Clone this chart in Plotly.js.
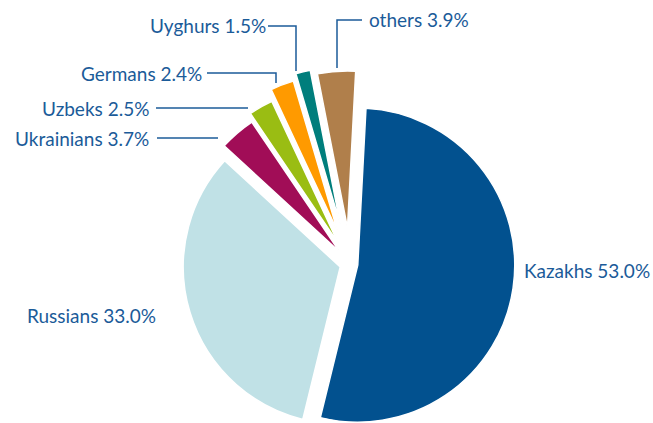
<!DOCTYPE html>
<html><head><meta charset="utf-8">
<script src="https://cdn.plot.ly/plotly-3.0.1.min.js"></script>
<style>html,body{margin:0;padding:0;overflow:hidden;background:#fff}#chart{width:653px;height:470px}</style>
</head><body><div id="chart"></div>
<script>
// ---- data ----
const categories = ['Kazakhs','Russians','Ukrainians','Uzbeks','Germans','Uyghurs','others'];
const shares = [53.0, 33.0, 3.7, 2.5, 2.4, 1.5, 3.9];

// ---- styling ----
const sliceColors = ['#02518f','#c0e1e6','#a10d57','#9abd13','#ff9a00','#007e7c','#b07f4b'];
const pulls = [0.05, 0.065, 0.10, 0.15, 0.22, 0.26, 0.23];
const textColor = '#1b5b99';
const W = 653, H = 470;
const CX = 350, CY = 264, R = 157;
const maxPull = Math.max(...pulls);
const half = R * (1 + maxPull);

const px = x => x / W;
const py = y => 1 - y / H;

// label placement (pixels) and leader lines
const labelPlace = [
  {x:522, y:270, anchor:'left'},
  {x:158, y:315, anchor:'right'},
  {x:151, y:138, anchor:'right', leader:[[157,138],[218,138]]},
  {x:151, y:108, anchor:'right', leader:[[156,108],[248,108]]},
  {x:204, y:73,  anchor:'right', leader:[[207,73],[276,73],[276,83]]},
  {x:268, y:26,  anchor:'right', leader:[[268,26],[296,26],[296,71]]},
  {x:367, y:19,  anchor:'left',  leader:[[362,20],[337,20],[337,68]]}
];

const annotations = categories.map((c, i) => ({
  xref:'paper', yref:'paper',
  x: px(labelPlace[i].x), y: py(labelPlace[i].y),
  xanchor: labelPlace[i].anchor, yanchor:'middle',
  text: c + ' ' + shares[i].toFixed(1) + '%',
  showarrow:false,
  font:{family:'Lato, "Open Sans", sans-serif', size:19, color:textColor}
}));

const shapes = labelPlace.filter(l => l.leader).map(l => ({
  type:'path', xref:'paper', yref:'paper',
  path: l.leader.map((p, k) => (k ? 'L' : 'M') + px(p[0]) + ',' + py(p[1])).join(' '),
  line:{color:textColor, width:1.5}
}));

const trace = {
  type:'pie',
  labels: categories,
  values: shares,
  sort:false,
  direction:'clockwise',
  rotation:3,
  pull: pulls,
  textinfo:'none',
  hoverinfo:'label+percent',
  marker:{colors: sliceColors, line:{color:'#ffffff', width:1.5}},
  domain:{
    x:[(CX - half) / W, (CX + half) / W],
    y:[1 - (CY + half) / H, 1 - (CY - half) / H]
  },
  showlegend:false
};

Plotly.newPlot('chart', [trace], {
  width: W, height: H,
  margin:{l:0, r:0, t:0, b:0},
  paper_bgcolor:'#ffffff',
  showlegend:false,
  annotations: annotations,
  shapes: shapes
}, {displayModeBar:false, staticPlot:true});
</script>
</body></html>
